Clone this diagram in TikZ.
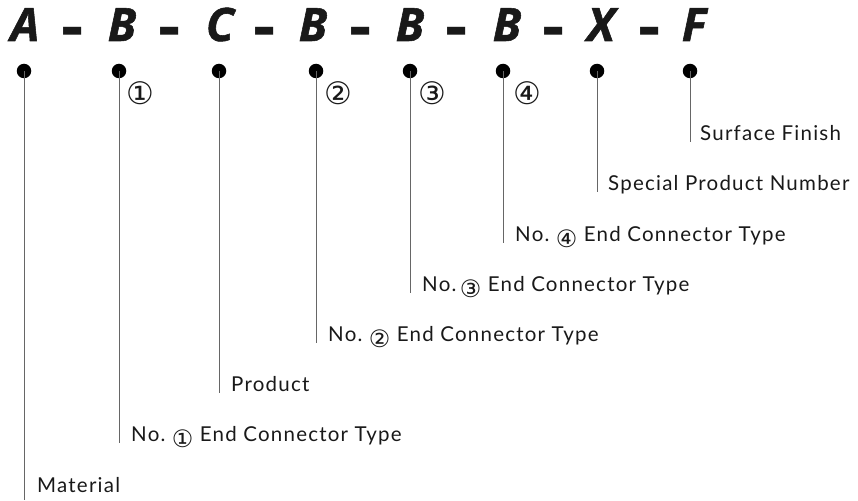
\documentclass[tikz,border=0pt]{standalone}
\usepackage{fontspec}
\setmainfont{Lato}[LetterSpace=6]
\newfontfamily\codefont{Open Sans}[BoldItalicFeatures={FakeBold=1.2}]
\newfontfamily\circfont{DejaVu Sans}
\newcommand{\cnum}[1]{\raisebox{-6pt}{\circfont\fontsize{24}{24}\selectfont #1}}
\newcommand{\hy}{\raisebox{-8pt}{\scalebox{1.5}[1.4]{-}}}
\begin{document}
\begin{tikzpicture}[x=1pt, y=-1pt,
		dot/.style={circle, fill=black, inner sep=0pt, minimum size=14.5pt},
		code/.style={anchor=base, inner sep=0pt, font=\codefont\bfseries\itshape\fontsize{46}{46}\selectfont, text=black!90},
		hyph/.style={anchor=base, inner sep=0pt, font=\codefont\bfseries\fontsize{46}{46}\selectfont, text=black!90},
		lead/.style={draw=black!60, line width=0.9pt},
		tag/.style={inner sep=0pt, font=\circfont\fontsize{31}{31}\selectfont, text=black!90},
		desc/.style={anchor=base west, inner sep=0pt, font=\fontsize{20.5}{20.5}\selectfont, text=black!90}]
	\useasboundingbox (0,0) rectangle (858,500);
	% code letters
	\node[code] (cA) at (25,41) {A};
	\node[hyph] (d1) at (73,41) {\hy};
	\node[code] (cB1) at (122,41) {B};
	\node[hyph] (d2) at (170,41) {\hy};
	\node[code] (cC) at (220,41) {C};
	\node[hyph] (d3) at (265,41) {\hy};
	\node[code] (cB2) at (313,41) {B};
	\node[hyph] (d4) at (361,41) {\hy};
	\node[code] (cB3) at (410,41) {B};
	\node[hyph] (d5) at (457,41) {\hy};
	\node[code] (cB4) at (507,41) {B};
	\node[hyph] (d6) at (554,41) {\hy};
	\node[code] (cX) at (601,41) {X};
	\node[hyph] (d7) at (650,41) {\hy};
	\node[code] (cF) at (694,41) {F};
	% dots
	\node[dot] (pA) at (24,71) {};
	\node[dot] (pB1) at (119,71) {};
	\node[dot] (pC) at (219,71) {};
	\node[dot] (pB2) at (316,71) {};
	\node[dot] (pB3) at (410,71) {};
	\node[dot] (pB4) at (503,71) {};
	\node[dot] (pX) at (597,71) {};
	\node[dot] (pF) at (690,71) {};
	\node[tag] (n1) at (140,93) {①};
	\node[tag] (n2) at (338,93) {②};
	\node[tag] (n3) at (432,93) {③};
	\node[tag] (n4) at (527,93) {④};
	% line ends
	\coordinate (eA) at (24,500);
	\coordinate (eB1) at (119,443);
	\coordinate (eC) at (219,393);
	\coordinate (eB2) at (316,343);
	\coordinate (eB3) at (410,293);
	\coordinate (eB4) at (503,243);
	\coordinate (eX) at (597,192);
	\coordinate (eF) at (690,142);
	\draw[lead] (pA.center) -- (eA);
	\draw[lead] (pB1.center) -- (eB1);
	\draw[lead] (pC.center) -- (eC);
	\draw[lead] (pB2.center) -- (eB2);
	\draw[lead] (pB3.center) -- (eB3);
	\draw[lead] (pB4.center) -- (eB4);
	\draw[lead] (pX.center) -- (eX);
	\draw[lead] (pF.center) -- (eF);
	% descriptions
	\node[desc] (tA) at (37,492) {Material};
	\node[desc] (tB1) at (131,441) {No.\ \cnum{①}\ End Connector Type};
	\node[desc] (tC) at (231,391) {Product};
	\node[desc] (tB2) at (328,341) {No.\ \cnum{②}\ End Connector Type};
	\node[desc] (tB3) at (422,291) {No.\,\cnum{③}\ End Connector Type};
	\node[desc] (tB4) at (515,241) {No.\ \cnum{④}\ End Connector Type};
	\node[desc] (tX) at (608,190) {Special Product Number};
	\node[desc] (tF) at (700,140) {Surface Finish};
\end{tikzpicture}
\end{document}
